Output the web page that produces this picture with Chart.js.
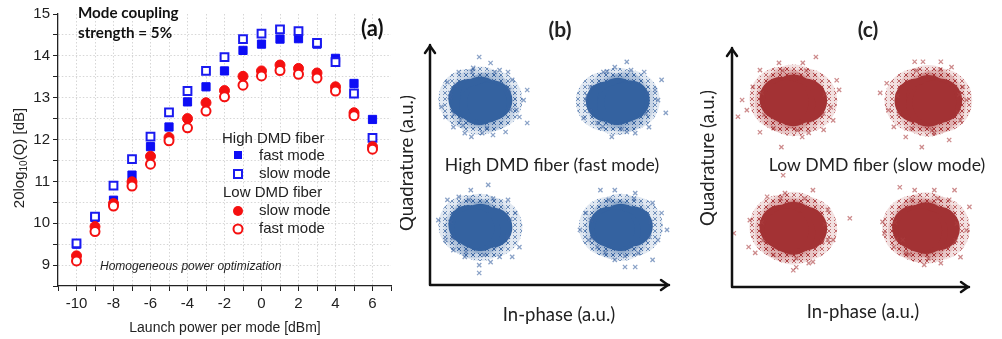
<!DOCTYPE html>
<html>
<head>
<meta charset="utf-8">
<script src="https://cdn.jsdelivr.net/npm/chart.js@4.4.0/dist/chart.umd.min.js"></script>
<style>
  body { margin: 0; background: #fff; width: 1002px; height: 339px; overflow: hidden; position: relative; }
  canvas { position: absolute; top: 0; }
</style>
</head>
<body>
<canvas id="qChart" width="400" height="339" style="left:0"></canvas>
<canvas id="bChart" width="300" height="339" style="left:400px"></canvas>
<canvas id="cChart" width="302" height="339" style="left:700px"></canvas>
<script>
// panel (a): Q factor vs launch power
const power = [-10, -9, -8, -7, -6, -5, -4, -3, -2, -1, 0, 1, 2, 3, 4, 5, 6];
const highFast = [9.50, 10.14, 10.55, 11.15, 11.83, 12.30, 12.90, 13.26, 13.64, 14.13, 14.28, 14.40, 14.41, 14.28, 13.94, 13.34, 12.48];
const highSlow = [9.52, 10.16, 10.90, 11.53, 12.07, 12.65, 13.16, 13.64, 13.97, 14.40, 14.53, 14.63, 14.59, 14.31, 13.85, 13.10, 12.04];
const lowSlow = [9.22, 9.92, 10.47, 10.99, 11.60, 12.05, 12.50, 12.88, 13.17, 13.51, 13.64, 13.78, 13.70, 13.59, 13.26, 12.64, 11.83];
const lowFast = [9.10, 9.80, 10.41, 10.89, 11.41, 11.97, 12.28, 12.68, 13.02, 13.30, 13.52, 13.65, 13.56, 13.47, 13.16, 12.57, 11.77];

const xTicks = [-10, -8, -6, -4, -2, 0, 2, 4, 6];
const yTicks = [9, 10, 11, 12, 13, 14, 15];

// panels (b) and (c): constellation clouds (a.u.)
const bCore = [
  {x: -1.36, y: 1.10}, {x: -1.16, y: 1.14}, {x: -0.96, y: 1.08}, {x: -1.18, y: 1.00}, {x: -1.05, y: 1.04},
  {x: 0.93, y: 1.06}, {x: 1.13, y: 1.12}, {x: 1.33, y: 1.08}, {x: 1.12, y: 1.00}, {x: 1.24, y: 1.04},
  {x: -1.36, y: -1.00}, {x: -1.16, y: -0.98}, {x: -0.96, y: -1.04}, {x: -1.16, y: -1.10}, {x: -1.26, y: -1.06},
  {x: 0.98, y: -1.03}, {x: 1.18, y: -0.98}, {x: 1.38, y: -1.02}, {x: 1.18, y: -1.10}, {x: 1.08, y: -1.07}
];
const bCloud = [
  {x: -1.18, y: 1.80}, {x: -1.81, y: 0.97}, {x: -1.74, y: 0.80}, {x: -1.71, y: 1.38}, {x: -0.38, y: 1.25},
  {x: -0.51, y: 0.80}, {x: -0.38, y: 0.70}, {x: -1.42, y: 0.53}, {x: -1.31, y: 0.47}, {x: -1.13, y: 0.53},
  {x: -0.95, y: 0.50}, {x: -0.74, y: 0.55}, {x: -1.52, y: 1.55}, {x: -0.70, y: 1.55}, {x: -0.99, y: 1.70},
  {x: -1.61, y: 0.63}, {x: -1.67, y: 1.13}, {x: -0.44, y: 1.08}, {x: -1.57, y: 1.33}, {x: -0.63, y: 1.42},
  {x: -0.56, y: 0.92}, {x: -1.49, y: 0.75}, {x: -0.84, y: 1.58}, {x: -1.28, y: 1.62},
  {x: -1.66, y: 1.20}, {x: -1.60, y: 0.85}, {x: -0.68, y: 1.25}, {x: -0.66, y: 0.92}, {x: -1.30, y: 1.55},
  {x: -0.92, y: 1.55}, {x: -1.05, y: 0.62}, {x: -1.45, y: 0.66},
  {x: 0.56, y: 0.78}, {x: 0.60, y: 1.08}, {x: 1.28, y: 1.72}, {x: 0.89, y: 1.55}, {x: 1.86, y: 1.42},
  {x: 1.93, y: 0.87}, {x: 1.80, y: 1.08}, {x: 1.42, y: 0.53}, {x: 1.03, y: 0.47}, {x: 1.28, y: 0.55},
  {x: 1.65, y: 0.63}, {x: 0.67, y: 1.30}, {x: 1.57, y: 1.55}, {x: 1.08, y: 1.63}, {x: 0.79, y: 0.70},
  {x: 1.75, y: 1.25},
  {x: 0.62, y: 1.15}, {x: 0.66, y: 0.90}, {x: 1.62, y: 1.20}, {x: 1.60, y: 0.86}, {x: 0.95, y: 1.56},
  {x: 1.35, y: 1.58}, {x: 1.20, y: 0.60}, {x: 0.88, y: 0.64},
  {x: -1.03, y: -0.33}, {x: -1.86, y: -0.92}, {x: -1.71, y: -0.58}, {x: -1.74, y: -1.25}, {x: -0.70, y: -0.58},
  {x: -0.51, y: -1.37}, {x: -0.63, y: -1.53}, {x: -1.18, y: -1.80}, {x: -1.18, y: -1.67}, {x: -1.42, y: -1.53},
  {x: -0.84, y: -1.53}, {x: -1.52, y: -0.53}, {x: -1.32, y: -0.42}, {x: -0.58, y: -0.80}, {x: -1.61, y: -1.42},
  {x: -0.99, y: -1.62},
  {x: -1.66, y: -0.95}, {x: -1.62, y: -1.22}, {x: -0.66, y: -0.90}, {x: -0.70, y: -1.20}, {x: -1.35, y: -0.58},
  {x: -0.95, y: -0.56}, {x: -1.10, y: -1.50}, {x: -1.40, y: -1.45},
  {x: 0.50, y: -1.08}, {x: 0.60, y: -0.80}, {x: 0.84, y: -0.42}, {x: 1.08, y: -0.42}, {x: 1.42, y: -0.47},
  {x: 1.86, y: -0.80}, {x: 1.95, y: -1.08}, {x: 1.80, y: -1.25}, {x: 1.71, y: -1.58}, {x: 1.42, y: -1.70},
  {x: 1.25, y: -1.70}, {x: 1.08, y: -1.58}, {x: 0.79, y: -1.37}, {x: 0.64, y: -1.25}, {x: 1.47, y: -1.47},
  {x: 1.71, y: -0.63},
  {x: 0.68, y: -0.92}, {x: 0.70, y: -1.22}, {x: 1.68, y: -0.95}, {x: 1.66, y: -1.20}, {x: 0.98, y: -0.58},
  {x: 1.40, y: -0.56}, {x: 1.25, y: -1.52}, {x: 0.92, y: -1.46}
];
const cCore = [
  {x: -1.17, y: 1.15}, {x: -0.97, y: 1.19}, {x: -0.77, y: 1.12}, {x: -0.97, y: 1.06}, {x: -1.08, y: 1.10},
  {x: 1.10, y: 1.12}, {x: 1.30, y: 1.18}, {x: 1.50, y: 1.12}, {x: 1.30, y: 1.05}, {x: 1.40, y: 1.09},
  {x: -1.17, y: -0.99}, {x: -0.97, y: -0.94}, {x: -0.77, y: -1.02}, {x: -0.97, y: -1.09}, {x: -1.08, y: -1.05},
  {x: 1.06, y: -1.00}, {x: 1.26, y: -0.95}, {x: 1.46, y: -1.02}, {x: 1.26, y: -1.08}, {x: 1.16, y: -1.05}
];
const cCloud = [
  {x: -1.90, y: 0.85}, {x: -1.75, y: 0.96}, {x: -1.83, y: 1.13}, {x: -1.53, y: 1.63}, {x: -1.21, y: 1.75},
  {x: -0.59, y: 1.85}, {x: -0.81, y: 1.75}, {x: -0.24, y: 1.46}, {x: -0.20, y: 1.30}, {x: -0.34, y: 1.01},
  {x: -0.30, y: 0.79}, {x: -0.46, y: 0.63}, {x: -0.82, y: 0.51}, {x: -1.17, y: 0.34}, {x: -1.53, y: 0.59},
  {x: -0.71, y: 0.58}, {x: -1.65, y: 1.35},
  {x: -1.50, y: 1.25}, {x: -1.46, y: 0.88}, {x: -0.44, y: 1.22}, {x: -0.46, y: 0.90}, {x: -1.15, y: 1.62},
  {x: -0.75, y: 1.62}, {x: -0.90, y: 0.62}, {x: -1.30, y: 0.66},
  {x: 0.49, y: 1.25}, {x: 0.60, y: 1.41}, {x: 1.07, y: 1.77}, {x: 1.21, y: 1.77}, {x: 1.51, y: 1.77},
  {x: 1.69, y: 1.68}, {x: 1.88, y: 1.35}, {x: 1.94, y: 1.13}, {x: 1.84, y: 0.79}, {x: 1.65, y: 0.46},
  {x: 1.19, y: 0.34}, {x: 0.92, y: 0.51}, {x: 0.72, y: 0.68}, {x: 0.63, y: 0.96}, {x: 1.40, y: 0.58},
  {x: 0.78, y: 1.20}, {x: 0.80, y: 0.90}, {x: 1.82, y: 1.22}, {x: 1.80, y: 0.92}, {x: 1.10, y: 1.62},
  {x: 1.50, y: 1.64}, {x: 1.36, y: 0.62}, {x: 1.02, y: 0.66},
  {x: -1.97, y: -1.10}, {x: -1.70, y: -0.88}, {x: -1.72, y: -1.33}, {x: -1.61, y: -1.43}, {x: -0.97, y: -1.72},
  {x: -0.71, y: -1.60}, {x: -0.64, y: -1.58}, {x: -0.39, y: -1.21}, {x: -0.30, y: -1.21}, {x: -0.02, y: -0.85},
  {x: -0.39, y: -0.71}, {x: -0.64, y: -0.38}, {x: -1.11, y: -0.43}, {x: -1.41, y: -0.49}, {x: -1.14, y: -0.13},
  {x: -0.92, y: -1.67},
  {x: -1.50, y: -0.92}, {x: -1.48, y: -1.22}, {x: -0.44, y: -0.95}, {x: -0.48, y: -1.24}, {x: -1.18, y: -0.52},
  {x: -0.78, y: -0.52}, {x: -0.92, y: -1.52}, {x: -1.30, y: -1.46},
  {x: 0.53, y: -0.91}, {x: 0.56, y: -1.10}, {x: 0.82, y: -0.33}, {x: 1.07, y: -0.38}, {x: 1.40, y: -0.38},
  {x: 1.74, y: -0.38}, {x: 1.99, y: -0.66}, {x: 1.94, y: -1.05}, {x: 1.84, y: -1.50}, {x: 1.51, y: -1.60},
  {x: 1.23, y: -1.63}, {x: 0.92, y: -1.43}, {x: 0.72, y: -1.33}, {x: 0.87, y: -1.21}, {x: 1.65, y: -0.54},
  {x: 0.74, y: -0.92}, {x: 0.76, y: -1.20}, {x: 1.78, y: -0.94}, {x: 1.76, y: -1.22}, {x: 1.02, y: -0.54},
  {x: 1.46, y: -0.52}, {x: 1.30, y: -1.52}, {x: 0.98, y: -1.45}
];

const ARIAL = '"Liberation Sans", Arial, sans-serif';
const SOFT = 'Lato, "Open Sans", sans-serif';

const toPts = ys => power.map((p, i) => ({x: p, y: ys[i]}));

// text, legend and axis titles for panel (a)
const panelA = {
  id: 'panelA',
  afterDraw(chart) {
    const ctx = chart.ctx;
    ctx.save();
    ctx.fillStyle = '#222';
    ctx.textBaseline = 'middle';

    // y title with subscript
    ctx.save();
    ctx.translate(20, 158);
    ctx.rotate(-Math.PI / 2);
    const big = '15px ' + ARIAL, small = '10px ' + ARIAL;
    ctx.font = big; const w1 = ctx.measureText('20log').width; const w3 = ctx.measureText('(Q) [dB]').width;
    ctx.font = small; const w2 = ctx.measureText('10').width;
    let x0 = -(w1 + w2 + w3) / 2;
    ctx.font = big; ctx.fillText('20log', x0, 0);
    ctx.font = small; ctx.fillText('10', x0 + w1, 4);
    ctx.font = big; ctx.fillText('(Q) [dB]', x0 + w1 + w2, 0);
    ctx.restore();

    ctx.textAlign = 'center';
    ctx.font = '14px ' + ARIAL;
    ctx.fillText('Launch power per mode [dBm]', 225, 328);

    ctx.textAlign = 'left';
    ctx.font = 'bold 15.2px ' + SOFT;
    ctx.fillStyle = '#111';
    ctx.fillText('Mode coupling', 78, 13);
    ctx.fillText('strength = 5%', 78, 33);
    ctx.font = 'bold 22px ' + SOFT;
    ctx.fillText('(a)', 361, 29);

    ctx.fillStyle = '#222';
    ctx.font = 'italic 12px ' + ARIAL;
    ctx.fillText('Homogeneous power optimization', 100, 267);

    // legend
    ctx.font = '15px ' + ARIAL;
    ctx.fillText('High DMD fiber', 222, 139);
    ctx.fillText('fast mode', 259, 156);
    ctx.fillText('slow mode', 259, 174);
    ctx.fillText('Low DMD fiber', 223, 193);
    ctx.fillText('slow mode', 259, 211);
    ctx.fillText('fast mode', 259, 229);

    ctx.fillStyle = '#0d0df5';
    ctx.fillRect(234, 151, 8, 8);
    ctx.strokeStyle = '#1a1af0'; ctx.lineWidth = 2;
    ctx.strokeRect(234, 170, 8, 8);
    ctx.fillStyle = '#f51010';
    ctx.beginPath(); ctx.arc(238, 211, 5, 0, Math.PI * 2); ctx.fill();
    ctx.strokeStyle = '#f51010';
    ctx.beginPath(); ctx.arc(238, 229, 4.5, 0, Math.PI * 2); ctx.stroke();
    ctx.restore();
  }
};

const dotted = (edge) => (c) => (c.tick && edge.includes(c.tick.value)) ? 'rgba(0,0,0,0)' : '#d6d6d6';

new Chart(document.getElementById('qChart'), {
  type: 'scatter',
  data: {
    datasets: [
      {label: 'fast mode', data: toPts(lowFast), pointStyle: 'circle', pointRadius: 4.5,
       backgroundColor: '#fff', borderColor: '#f51010', borderWidth: 2},
      {label: 'slow mode', data: toPts(lowSlow), pointStyle: 'circle', pointRadius: 5,
       backgroundColor: '#f51010', borderColor: '#f51010', borderWidth: 1},
      {label: 'slow mode', data: toPts(highSlow), pointStyle: 'rect', pointRadius: 5.5,
       backgroundColor: '#fff', borderColor: '#1a1af0', borderWidth: 2},
      {label: 'fast mode', data: toPts(highFast), pointStyle: 'rect', pointRadius: 5.8,
       backgroundColor: '#0d0df5', borderColor: '#0d0df5', borderWidth: 1}
    ]
  },
  options: {
    responsive: false,
    animation: false,
    events: [],
    layout: {padding: {top: 14, right: 9, left: 0, bottom: 0}},
    scales: {
      x: {
        min: -11, max: 7,
        afterFit: s => { s.height = 53; },
        ticks: {stepSize: 1, autoSkip: false, maxRotation: 0, padding: 4,
                color: '#222', font: {family: ARIAL, size: 15},
                callback: v => xTicks.includes(v) ? String(v) : ''},
        grid: {color: dotted([-11, 7]), tickColor: '#222', tickLength: 5, lineWidth: 1},
        border: {color: '#222', width: 1.3, dash: [1.5, 2]}
      },
      y: {
        min: 8.5, max: 15,
        afterFit: s => { s.width = 58; },
        ticks: {stepSize: 0.5, autoSkip: false, padding: 3,
                color: '#222', font: {family: ARIAL, size: 15},
                callback: v => yTicks.includes(v) ? String(v) : ''},
        grid: {color: dotted([8.5, 15]), tickColor: '#222', tickLength: 5, lineWidth: 1},
        border: {color: '#222', width: 1.3, dash: [1.5, 2]}
      }
    },
    plugins: {legend: {display: false}, tooltip: {enabled: false}}
  },
  plugins: [panelA]
});

// speckle fill: a tile of small crosses, used for the sparse edge of each cloud
function crossTile(rgb) {
  const tile = document.createElement('canvas');
  tile.width = 7; tile.height = 6;
  const t = tile.getContext('2d');
  t.fillStyle = 'rgba(' + rgb + ',0.15)';
  t.fillRect(0, 0, 7, 6);
  t.strokeStyle = 'rgba(' + rgb + ',0.65)';
  t.lineWidth = 1;
  t.beginPath();
  t.moveTo(1, 1); t.lineTo(5, 5); t.moveTo(5, 1); t.lineTo(1, 5);
  t.stroke();
  return t.createPattern(tile, 'repeat');
}

// arrows and labels for the constellation panels
function constellationText(t) {
  return {
    id: 'constText',
    afterDraw(chart) {
      const {ctx, chartArea: a} = chart;
      ctx.save();
      ctx.strokeStyle = '#111';
      ctx.lineWidth = 2.5;
      ctx.lineCap = 'round';
      ctx.lineJoin = 'round';
      ctx.beginPath();
      ctx.moveTo(a.left, a.top); ctx.lineTo(a.left, a.bottom); ctx.lineTo(a.right - 1, a.bottom);
      ctx.stroke();
      ctx.beginPath();
      ctx.moveTo(a.left - 5, a.top + 8); ctx.lineTo(a.left, a.top + 1); ctx.lineTo(a.left + 5, a.top + 8);
      ctx.moveTo(a.right - 9, a.bottom - 5); ctx.lineTo(a.right - 2, a.bottom); ctx.lineTo(a.right - 9, a.bottom + 5);
      ctx.stroke();

      ctx.fillStyle = '#222';
      ctx.textAlign = 'center';
      ctx.textBaseline = 'middle';
      ctx.font = 'bold 21px ' + SOFT;
      ctx.fillText(t.title, t.titleX, 30);
      ctx.font = '17.6px ' + SOFT;
      ctx.fillText(t.mid, t.midX, 165);
      ctx.font = '18.5px ' + SOFT;
      ctx.fillText('In-phase (a.u.)', t.inX, t.inY);
      ctx.save();
      ctx.translate(t.quadX, t.quadY);
      ctx.rotate(-Math.PI / 2);
      ctx.fillText('Quadrature (a.u.)', 0, 0);
      ctx.restore();
      ctx.restore();
    }
  };
}

function constellation(id, core, cloud, look, pad, text) {
  new Chart(document.getElementById(id), {
    type: 'scatter',
    data: {
      datasets: [
        {data: cloud, pointStyle: 'crossRot', pointRadius: 3, borderWidth: 1.3,
         borderColor: look.cross, backgroundColor: look.cross, clip: false},
        {data: core, pointStyle: 'circle', pointRadius: look.r, borderWidth: 0,
         backgroundColor: look.core, clip: false},
        {data: core, pointStyle: 'circle', pointRadius: look.r + 10, borderWidth: 0,
         backgroundColor: crossTile(look.rgb), clip: false}
      ]
    },
    options: {
      responsive: false,
      animation: false,
      events: [],
      layout: {padding: pad},
      scales: {
        x: {display: false, min: -2, max: 2},
        y: {display: false, min: -2, max: 2}
      },
      plugins: {legend: {display: false}, tooltip: {enabled: false}}
    },
    plugins: [constellationText(text)]
  });
}

constellation('bChart', bCore, bCloud,
  {core: '#3462a0', rgb: '55,98,160', cross: 'rgba(60,100,162,0.6)', r: 20},
  {left: 20, right: 3, top: 45, bottom: 54},
  {title: '(b)', titleX: 160, mid: 'High DMD fiber (fast mode)', midX: 152,
   inX: 159, inY: 315, quadX: 7, quadY: 163});

constellation('cChart', cCore, cCloud,
  {core: '#a33234', rgb: '168,48,50', cross: 'rgba(172,62,64,0.6)', r: 22},
  {left: 26, right: 1, top: 48, bottom: 52},
  {title: '(c)', titleX: 168, mid: 'Low DMD fiber (slow mode)', midX: 177,
   inX: 163, inY: 312, quadX: 8, quadY: 158});
</script>
</body>
</html>
